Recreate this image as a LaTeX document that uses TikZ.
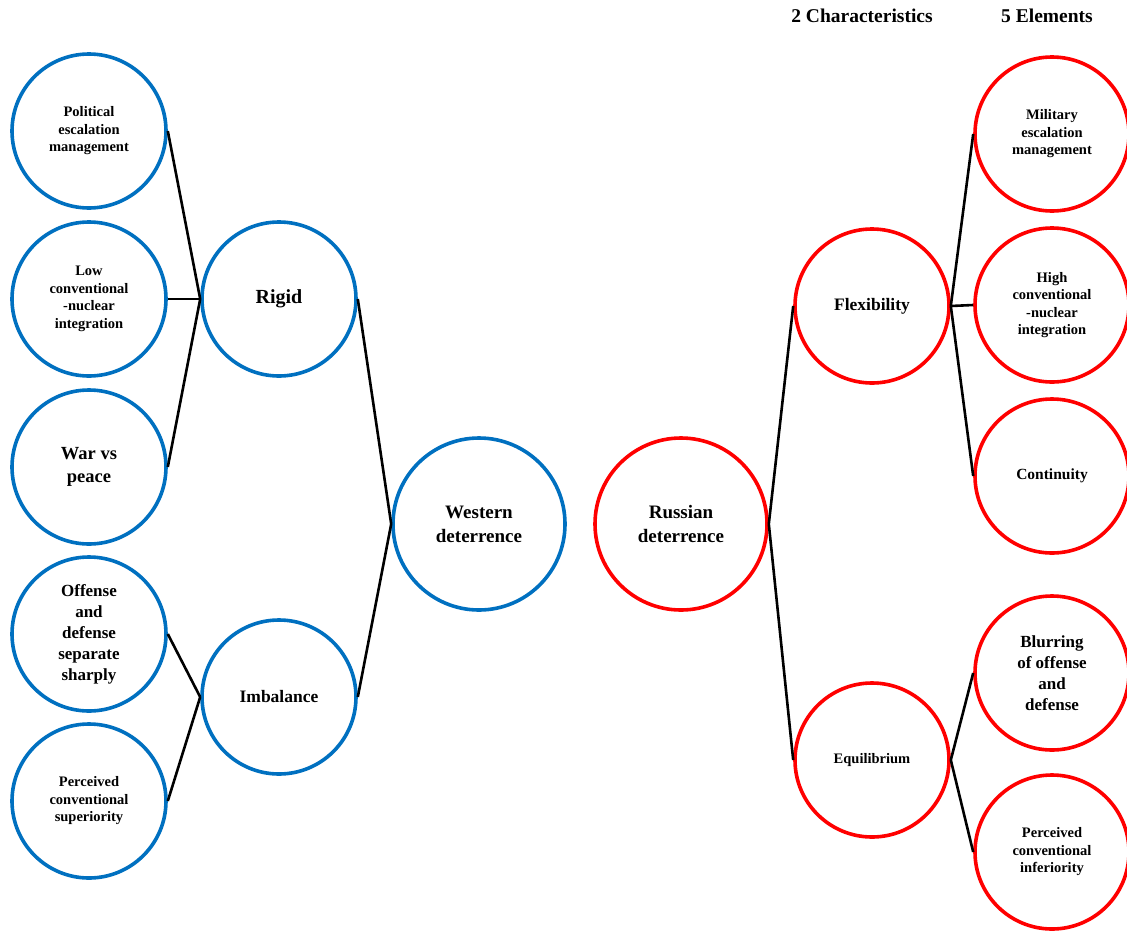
\documentclass[tikz,border=0pt]{standalone}
\usepackage{fontspec}
\setmainfont{Liberation Serif}
\definecolor{bleuOuest}{RGB}{0,112,192}
\definecolor{rougeEst}{RGB}{255,0,0}
\begin{document}
\begin{tikzpicture}[x=1pt,y=-1pt]
		\tikzstyle{fleche}=[line width=2.6pt,black]
		\tikzstyle{noeud}=[circle,line width=3.6pt,inner sep=0pt,minimum size=154pt,align=center,font=\bfseries\fontsize{14.5}{17.5}\selectfont]
		\tikzstyle{ouest}=[noeud,draw=bleuOuest]
		\tikzstyle{est}=[noeud,draw=rougeEst]
		\tikzstyle{grand}=[minimum size=172pt,font=\bfseries\fontsize{19}{24}\selectfont]
		\tikzstyle{moyen}=[font=\bfseries\fontsize{17.5}{21}\selectfont]
		\tikzstyle{titre}=[font=\bfseries\fontsize{19.5}{22}\selectfont]
		\def\ColonneA{89}
		\def\ColonneB{279}
		\def\ColonneC{479}
		\def\ColonneD{681}
		\def\ColonneE{872}
		\def\ColonneF{1052}
		\useasboundingbox (0,0) rectangle (1127,932);
		% titres
		\node[titre] (T1) at (862,16) {2 Characteristics};
		\node[titre] (T2) at (1047,16) {5 Elements};
		% dissuasion occidentale
		\node[ouest] (Pol) at (\ColonneA,131) {Political\\escalation\\management};
		\node[ouest] (Low) at (\ColonneA,299) {Low\\conventional\\-nuclear\\integration};
		\node[ouest,font=\bfseries\fontsize{18.5}{23}\selectfont] (War) at (\ColonneA,467) {War vs\\peace};
		\node[ouest,moyen,font=\bfseries\fontsize{17}{21}\selectfont] (Off) at (\ColonneA,634) {Offense\\and\\defense\\separate\\sharply};
		\node[ouest] (Sup) at (\ColonneA,801) {Perceived\\conventional\\superiority};
		\node[ouest,font=\bfseries\fontsize{20}{24}\selectfont] (Rigid) at (\ColonneB,299) {Rigid};
		\node[ouest,moyen] (Imb) at (\ColonneB,697) {Imbalance};
		\node[ouest,grand] (West) at (\ColonneC,524) {Western\\deterrence};
		% dissuasion russe
		\node[est,grand] (Rus) at (\ColonneD,524) {Russian\\deterrence};
		\node[est,moyen] (Flex) at (\ColonneE,306) {Flexibility};
		\node[est] (Equi) at (\ColonneE,760) {Equilibrium};
		\node[est] (Mil) at (\ColonneF,134) {Military\\escalation\\management};
		\node[est] (High) at (\ColonneF,305) {High\\conventional\\-nuclear\\integration};
		\node[est,font=\bfseries\fontsize{15.5}{18}\selectfont] (Cont) at (\ColonneF,476) {Continuity};
		\node[est,moyen,font=\bfseries\fontsize{17}{21}\selectfont] (Blur) at (\ColonneF,673) {Blurring\\of offense\\and\\defense};
		\node[est] (Inf) at (\ColonneF,852) {Perceived\\conventional\\inferiority};
		% liens
		\draw[fleche] (Pol.east)--(Rigid.west);
		\draw[fleche] (Low.east)--(Rigid.west);
		\draw[fleche] (War.east)--(Rigid.west);
		\draw[fleche] (Off.east)--(Imb.west);
		\draw[fleche] (Sup.east)--(Imb.west);
		\draw[fleche] (Rigid.east)--(West.west);
		\draw[fleche] (Imb.east)--(West.west);
		\draw[fleche] (Rus.east)--(Flex.west);
		\draw[fleche] (Rus.east)--(Equi.west);
		\draw[fleche] (Flex.east)--(Mil.west);
		\draw[fleche] (Flex.east)--(High.west);
		\draw[fleche] (Flex.east)--(Cont.west);
		\draw[fleche] (Equi.east)--(Blur.west);
		\draw[fleche] (Equi.east)--(Inf.west);
	\end{tikzpicture}
\end{document}
